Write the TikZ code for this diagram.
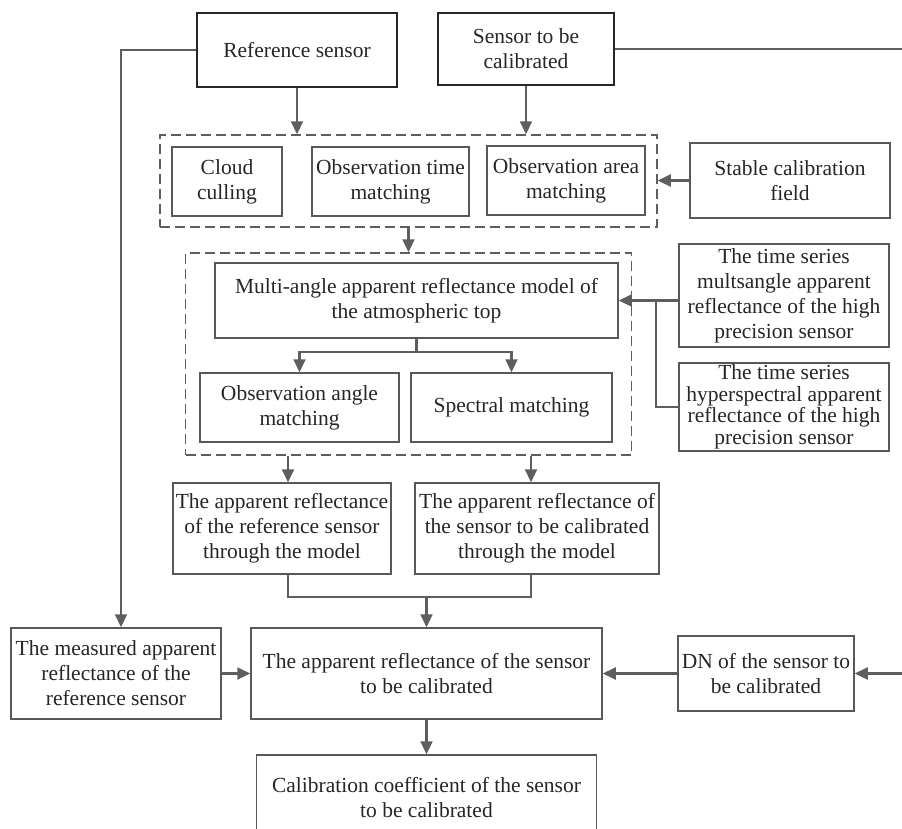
\documentclass[tikz,border=0pt]{standalone}
\usepackage{fontspec}
\setmainfont{Liberation Serif}
\usepackage{xcolor}
\usepackage{tikz}
\usetikzlibrary{shapes,arrows,positioning,calc,arrows.meta}

\definecolor{linegray}{HTML}{5E5E5E}
\definecolor{boxgray}{HTML}{585858}

\begin{document}
\begin{tikzpicture}[x=1pt, y=-1pt,
    box/.style={draw=boxgray, line width=1.5pt, align=center, inner sep=1.5pt,
        font=\fontsize{21.5}{25}\selectfont, text=black!85},
    srcbox/.style={box, draw=black!85, line width=2pt},
    group/.style={draw=linegray, line width=1.5pt, dash pattern=on 10pt off 5pt},
    arr/.style={draw=linegray, line width=2.2pt, -{Triangle[length=13pt,width=12pt]}},
    ln/.style={draw=linegray, line width=2.2pt}]
    \clip (0,0) rectangle (902,828);

    % Sensors
    \node[srcbox, minimum width=200pt, minimum height=74pt] (ref) at (297,50) {Reference sensor};
    \node[srcbox, minimum width=176pt, minimum height=72pt] (sen) at (526,49) {Sensor to be\\calibrated};

    % Matching group
    \node[group, minimum width=497pt, minimum height=92pt] (dash1) at (408.5,181) {};
    \node[box, minimum width=110pt, minimum height=69pt] (cloud) at (227,181.5) {Cloud\\culling};
    \node[box, minimum width=157pt, minimum height=69pt] (otime) at (390.5,181.5) {Observation time\\matching};
    \node[box, minimum width=158pt, minimum height=69pt] (oarea) at (566,180.5) {Observation area\\matching};
    \node[box, minimum width=200pt, minimum height=75pt] (stable) at (790,180.5) {Stable calibration\\field};

    % Model group
    \node[group, minimum width=446pt, minimum height=202pt] (dash2) at (408.5,354) {};
    \node[box, minimum width=403pt, minimum height=75pt] (multi) at (416.5,300.5) {Multi-angle apparent reflectance model of\\the atmospheric top};
    \node[box, minimum width=199pt, minimum height=69pt] (oangle) at (299.5,407.5) {Observation angle\\matching};
    \node[box, minimum width=201pt, minimum height=69pt] (spec) at (511.5,407.5) {Spectral matching};
    \node[box, minimum width=210pt, minimum height=103pt] (ts1) at (784,295.5) {The time series\\multsangle apparent\\reflectance of the high\\precision sensor};
    \node[box, minimum width=210pt, minimum height=88pt, font=\fontsize{21.5}{21.5}\selectfont] (ts2) at (784,407) {The time series\\hyperspectral apparent\\reflectance of the high\\precision sensor};

    % Model outputs
    \node[box, minimum width=218pt, minimum height=91pt] (appref) at (282,528.5) {The apparent reflectance\\of the reference sensor\\through the model};
    \node[box, minimum width=244pt, minimum height=91pt] (appsen) at (537,528.5) {The apparent reflectance of\\the sensor to be calibrated\\through the model};

    % Calibration
    \node[box, minimum width=210pt, minimum height=91pt] (meas) at (116,673.5) {The measured apparent\\reflectance of the\\reference sensor};
    \node[box, minimum width=351pt, minimum height=91pt] (cent) at (426.5,673.5) {The apparent reflectance of the sensor\\to be calibrated};
    \node[box, minimum width=176pt, minimum height=75pt] (dn) at (766,673.5) {DN of the sensor to\\be calibrated};
    \node[box, minimum width=340pt, minimum height=85pt] (coef) at (426.5,797.5) {Calibration coefficient of the sensor\\to be calibrated};

    % Connectors
    \draw[arr] (ref.south) -- (ref.south |- dash1.north);
    \draw[arr] (sen.south) -- (sen.south |- dash1.north);
    \draw[arr] (stable.west) -- (stable.west -| dash1.east);
    \draw[arr] (dash1.south) -- (dash2.north);
    \draw[ln] (multi.south) -- ++(0,13) coordinate (split);
    \draw[arr] (split) -| (oangle.north);
    \draw[arr] (split) -| (spec.north);
    \coordinate (jn) at (656,300.5);
    \draw[arr] (ts1.west |- multi.east) -- (multi.east);
    \draw[ln] (ts2.west) -| (jn);
    \draw[arr] ([xshift=6pt]appref.north |- dash2.south) -- ([xshift=6pt]appref.north);
    \draw[arr] ([xshift=-6pt]appsen.north |- dash2.south) -- ([xshift=-6pt]appsen.north);
    \draw[ln] ([xshift=6pt]appref.south) -- ++(0,22) coordinate (mg) -| ([xshift=-6pt]appsen.south);
    \draw[arr] (cent.north |- mg) -- (cent.north);
    \draw[arr] (ref.west) -| ([xshift=5pt]meas.north);
    \draw[arr] (meas.east) -- (cent.west);
    \draw[arr] (dn.west) -- (cent.east);
    \draw[arr] (sen.east) -- ++(291,0) |- (dn.east);
    \draw[arr] (cent.south) -- (coef.north);
\end{tikzpicture}
\end{document}
